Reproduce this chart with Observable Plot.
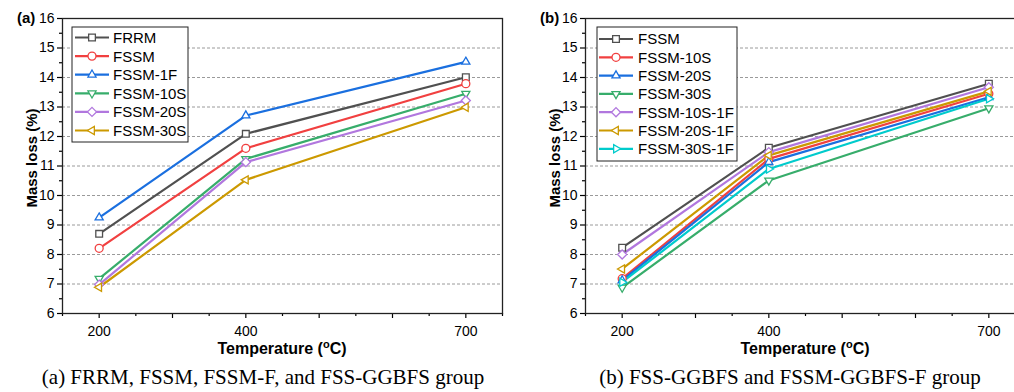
<!DOCTYPE html>
<html>
<head>
<meta charset="utf-8">
<script src="https://cdn.jsdelivr.net/npm/d3@7"></script>
<script src="https://cdn.jsdelivr.net/npm/@observablehq/plot@0.6"></script>
<style>
  html, body { margin: 0; padding: 0; background: white; overflow: hidden; }
  #root { position: relative; width: 1014px; height: 392px; overflow: hidden; background: white; }
  .panel { position: absolute; top: 0; }
  .caption { position: absolute; top: 362px; font-family: "Liberation Serif", "Times New Roman", serif; font-size: 21px; line-height: 30px; white-space: nowrap; color: black; transform: translateX(-50%); }
</style>
</head>
<body>
<div id="root"></div>
<script>
// ---------- data ----------
const temps = [200, 400, 700];
const xTickLabels = [200, 400, 700];
const xMajorTicks = [200, 300, 400, 500, 600, 700];
const xMinorTicks = [150, 250, 350, 450, 550, 650, 750];
const yMajorTicks = [6, 7, 8, 9, 10, 11, 12, 13, 14, 15, 16];
const yMinorTicks = [6.5, 7.5, 8.5, 9.5, 10.5, 11.5, 12.5, 13.5, 14.5, 15.5];
const yGrid = [7, 8, 9, 10, 11, 12, 13, 14, 15];

// panel (a)
const namesA = ["FRRM", "FSSM", "FSSM-1F", "FSSM-10S", "FSSM-20S", "FSSM-30S"];
const a_FRRM     = [8.70, 12.09, 14.01];
const a_FSSM     = [8.21, 11.60, 13.79];
const a_FSSM_1F  = [9.25, 12.71, 14.53];
const a_FSSM_10S = [7.18, 11.24, 13.45];
const a_FSSM_20S = [6.98, 11.13, 13.22];
const a_FSSM_30S = [6.89, 10.53, 12.99];

// panel (b)
const namesB = ["FSSM", "FSSM-10S", "FSSM-20S", "FSSM-30S", "FSSM-10S-1F", "FSSM-20S-1F", "FSSM-30S-1F"];
const b_FSSM        = [8.23, 11.62, 13.79];
const b_FSSM_10S    = [7.18, 11.24, 13.45];
const b_FSSM_20S    = [7.12, 11.13, 13.33];
const b_FSSM_30S    = [6.88, 10.51, 12.96];
const b_FSSM_10S_1F = [8.00, 11.47, 13.67];
const b_FSSM_20S_1F = [7.51, 11.36, 13.53];
const b_FSSM_30S_1F = [7.06, 10.90, 13.28];

const captionA = "(a) FRRM, FSSM, FSSM-F, and FSS-GGBFS group";
const captionB = "(b) FSS-GGBFS and FSSM-GGBFS-F group";

// ---------- styles ----------
const gray = "#505050", red = "#F14040", blue = "#1A6FDF", green = "#37AD6B",
      purple = "#B177DE", gold = "#CC9900", cyan = "#00CBCC";

function tri(angle) {
  return {
    draw(ctx, size) {
      const R = Math.sqrt(size) * 0.66;
      for (let i = 0; i < 3; i++) {
        const a = angle + i * 2 * Math.PI / 3;
        const x = R * Math.cos(a), y = R * Math.sin(a);
        if (i === 0) ctx.moveTo(x, y); else ctx.lineTo(x, y);
      }
      ctx.closePath();
    }
  };
}
const symSquare = { draw(ctx, size) { const s = Math.sqrt(size) * 0.95 / 2; ctx.moveTo(-s, -s); ctx.lineTo(s, -s); ctx.lineTo(s, s); ctx.lineTo(-s, s); ctx.closePath(); } };
const symCircle = { draw(ctx, size) { const r = Math.sqrt(size / Math.PI); ctx.moveTo(r, 0); ctx.arc(0, 0, r, 0, 2 * Math.PI); } };
const symDiamond = { draw(ctx, size) { const s = Math.sqrt(size) * 0.64; ctx.moveTo(0, -s); ctx.lineTo(s, 0); ctx.lineTo(0, s); ctx.lineTo(-s, 0); ctx.closePath(); } };
const symUp = tri(-Math.PI / 2), symDown = tri(Math.PI / 2), symLeft = tri(Math.PI), symRight = tri(0);

const R = 4;

function makePanel(cfg) {
  const rows = [];
  cfg.names.forEach((n, i) => cfg.values[i].forEach((v, j) => rows.push({ series: n, t: temps[j], v })));
  const marks = [
    Plot.ruleY(yGrid, { stroke: "#9a9a9a", strokeWidth: 1, strokeDasharray: "3,2" }),
    Plot.axisX({ ticks: xMajorTicks, tickSize: 5, tickPadding: 8, tickFormat: d => xTickLabels.includes(d) ? String(d) : "", label: null, fontSize: 14, strokeWidth: 1.2 }),
    Plot.axisX({ ticks: xMinorTicks, tickSize: 3, tickFormat: () => "", label: null, strokeWidth: 1.2 }),
    Plot.axisY({ ticks: yMajorTicks, tickSize: 5, tickPadding: 3, label: null, fontSize: 14, strokeWidth: 1.2 }),
    Plot.axisY({ ticks: yMinorTicks, tickSize: 3, tickFormat: () => "", label: null, strokeWidth: 1.2 }),
    Plot.frame({ stroke: "#222", strokeWidth: 1.3 })
  ];
  cfg.names.forEach((n, i) => {
    const d = rows.filter(r => r.series === n);
    marks.push(Plot.line(d, { x: "t", y: "v", stroke: cfg.colors[i], strokeWidth: 2.2 }));
  });
  cfg.names.forEach((n, i) => {
    const d = rows.filter(r => r.series === n);
    marks.push(Plot.dot(d, { x: "t", y: "v", symbol: cfg.symbols[i], r: R, stroke: cfg.colors[i], fill: "white", strokeWidth: 1.3 }));
  });
  const svg = Plot.plot({
    width: cfg.width, height: 362,
    marginLeft: cfg.marginLeft, marginRight: 5, marginTop: 18, marginBottom: 49,
    x: { domain: [150, 750] },
    y: { domain: [6, 16] },
    style: { fontFamily: "'Liberation Sans', Arial, sans-serif", fontSize: "14px", color: "black", background: "white", overflow: "visible" },
    marks
  });
  svg.classList.add("panel");
  svg.style.left = cfg.left + "px";
  const s = d3.select(svg);
  const ml = cfg.marginLeft;
  // panel tag
  s.append("text").attr("x", ml - 45).attr("y", 23).attr("text-anchor", "start").attr("font-weight", "bold").attr("font-size", 15).attr("fill", "black").text(cfg.tag);
  // y label
  s.append("text").attr("transform", `translate(${ml - 30},158) rotate(-90)`).attr("text-anchor", "middle").attr("dy", "0.35em")
    .attr("font-weight", "bold").attr("font-size", 15).attr("fill", "black").text("Mass loss (%)");
  // x label
  const xl = s.append("text").attr("x", (ml + 440 / 2)).attr("y", 354).attr("text-anchor", "middle")
    .attr("font-weight", "bold").attr("font-size", 16).attr("fill", "black");
  xl.append("tspan").text("Temperature (");
  xl.append("tspan").attr("font-size", 11).attr("dy", -6).text("o");
  xl.append("tspan").attr("dy", 6).text("C)");
  // legend
  const L = cfg.legend;
  const g = s.append("g");
  g.append("rect").attr("x", L.x).attr("y", L.y).attr("width", L.w).attr("height", L.h).attr("fill", "white").attr("stroke", "#222").attr("stroke-width", 1);
  cfg.names.forEach((n, i) => {
    const yy = L.y0 + i * L.dy;
    g.append("line").attr("x1", L.lx1).attr("x2", L.lx2).attr("y1", yy).attr("y2", yy).attr("stroke", cfg.colors[i]).attr("stroke-width", 2.2);
    g.append("path").attr("transform", `translate(${(L.lx1 + L.lx2) / 2},${yy})`).attr("d", d3.symbol(cfg.symbols[i], R * R * Math.PI)())
      .attr("fill", "white").attr("stroke", cfg.colors[i]).attr("stroke-width", 1.3);
    g.append("text").attr("x", L.tx).attr("y", yy).attr("dy", "0.36em").attr("text-anchor", "start").attr("font-size", 15).attr("fill", "black").text(n);
  });
  return svg;
}

const root = document.getElementById("root");

const svgA = makePanel({
  names: namesA,
  values: [a_FRRM, a_FSSM, a_FSSM_1F, a_FSSM_10S, a_FSSM_20S, a_FSSM_30S],
  colors: [gray, red, blue, green, purple, gold],
  symbols: [symSquare, symCircle, symUp, symDown, symDiamond, symLeft],
  left: 0, width: 507, marginLeft: 62, tag: "(a)",
  legend: { x: 72, y: 27, w: 116, h: 115, y0: 37.5, dy: 18.6, lx1: 75, lx2: 109, tx: 113 }
});
root.appendChild(svgA);

const svgB = makePanel({
  names: namesB,
  values: [b_FSSM, b_FSSM_10S, b_FSSM_20S, b_FSSM_30S, b_FSSM_10S_1F, b_FSSM_20S_1F, b_FSSM_30S_1F],
  colors: [gray, red, blue, green, purple, gold, cyan],
  symbols: [symSquare, symCircle, symUp, symDown, symDiamond, symLeft, symRight],
  left: 520, width: 510, marginLeft: 65, tag: "(b)",
  legend: { x: 77, y: 27, w: 140, h: 134, y0: 39, dy: 18.3, lx1: 79, lx2: 113, tx: 118 }
});
root.appendChild(svgB);

const capA = document.createElement("div");
capA.className = "caption"; capA.style.left = "263px"; capA.textContent = captionA;
root.appendChild(capA);
const capB = document.createElement("div");
capB.className = "caption"; capB.style.left = "790px"; capB.textContent = captionB;
root.appendChild(capB);
</script>
</body>
</html>
